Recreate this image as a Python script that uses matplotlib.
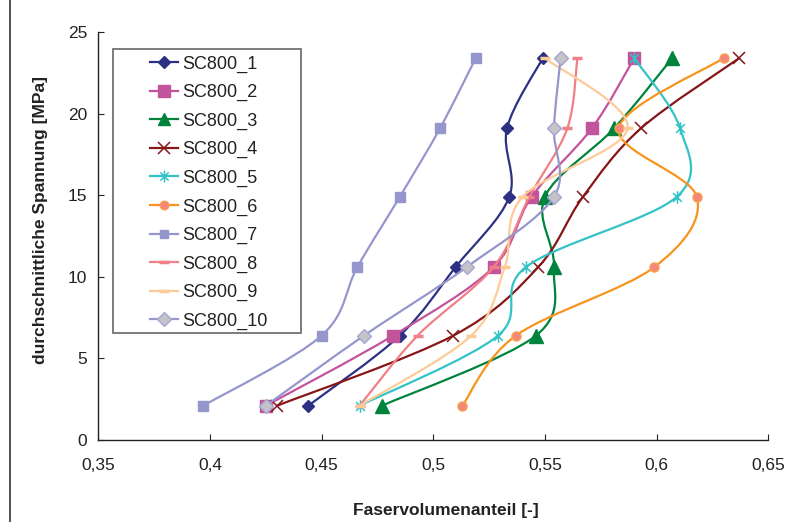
import matplotlib
matplotlib.use("Agg")
import matplotlib.pyplot as plt
import numpy as np
from matplotlib.path import Path
from matplotlib.patches import PathPatch, Rectangle
from matplotlib.lines import Line2D

plt.rcParams['font.family'] = ['Liberation Sans', 'DejaVu Sans']

# ---- data ----
stress = [2.1, 6.4, 10.6, 14.9, 19.1, 23.4]
series_names = ["SC800_1", "SC800_2", "SC800_3", "SC800_4", "SC800_5",
                "SC800_6", "SC800_7", "SC800_8", "SC800_9", "SC800_10"]
sc1 = [0.444, 0.485, 0.510, 0.534, 0.533, 0.549]
sc2 = [0.425, 0.482, 0.527, 0.544, 0.571, 0.590]
sc3 = [0.477, 0.546, 0.554, 0.550, 0.581, 0.607]
sc4 = [0.430, 0.509, 0.547, 0.567, 0.593, 0.637]
sc5 = [0.467, 0.529, 0.5415, 0.609, 0.6105, 0.590]
sc6 = [0.513, 0.537, 0.599, 0.618, 0.583, 0.630]
sc7 = [0.397, 0.450, 0.466, 0.485, 0.503, 0.519]
sc8 = [0.467, 0.493, 0.527, 0.543, 0.560, 0.5645]
sc9 = [0.467, 0.517, 0.532, 0.540, 0.587, 0.550]
sc10 = [0.425, 0.469, 0.515, 0.554, 0.554, 0.557]
series_x = [sc1, sc2, sc3, sc4, sc5, sc6, sc7, sc8, sc9, sc10]

x_ticks = [0.35, 0.40, 0.45, 0.50, 0.55, 0.60, 0.65]
x_ticklabels = ["0,35", "0,4", "0,45", "0,5", "0,55", "0,6", "0,65"]
y_ticks = [0, 5, 10, 15, 20, 25]
y_ticklabels = ["0", "5", "10", "15", "20", "25"]

# ---- styles ----
ast = Path([(0, -1), (0, 1), (-0.7, -0.7), (0.7, 0.7), (-0.7, 0.7), (0.7, -0.7)],
           [Path.MOVETO, Path.LINETO, Path.MOVETO, Path.LINETO, Path.MOVETO, Path.LINETO])
styles = [
    dict(color='#2D3184', marker='D', ms=6.5, mfc='#2D3184', mec='#2D3184', mew=1),
    dict(color='#C2549C', marker='s', ms=9, mfc='#C2549C', mec='#C2549C', mew=1),
    dict(color='#00843D', marker='^', ms=9.5, mfc='#00843D', mec='#00843D', mew=1),
    dict(color='#861618', marker='x', ms=9, mfc='#861618', mec='#861618', mew=1.1),
    dict(color='#33C3C6', marker=ast, ms=9, mfc='#33C3C6', mec='#33C3C6', mew=1.1),
    dict(color='#F7941D', marker='o', ms=6.5, mfc='#F4877A', mec='#F7A04A', mew=1),
    dict(color='#9596CC', marker='s', ms=6.5, mfc='#9596CC', mec='#9596CC', mew=1),
    dict(color='#F07F86', marker='_', ms=7, mfc='#F07F86', mec='#F07F86', mew=2.5),
    dict(color='#FDCB98', marker='_', ms=7, mfc='#FDCB98', mec='#FDCB98', mew=2.5),
    dict(color='#9596CC', marker='D', ms=7, mfc='#C3C3C8', mec='#A5A6D4', mew=1),
]


def smooth_path(xs, ys):
    pts = np.column_stack([xs, ys])
    n = len(pts)
    verts = [tuple(pts[0])]
    codes = [Path.MOVETO]
    for i in range(n - 1):
        p0 = pts[i - 1] if i > 0 else pts[i]
        p1 = pts[i]
        p2 = pts[i + 1]
        p3 = pts[i + 2] if i + 2 < n else pts[i + 1]
        c1 = p1 + (p2 - p0) / 6.0
        c2 = p2 - (p3 - p1) / 6.0
        verts += [tuple(c1), tuple(c2), tuple(p2)]
        codes += [Path.CURVE4] * 3
    return Path(verts, codes)


fig = plt.figure(figsize=(7.93, 5.22), dpi=100)
ax = fig.add_axes([98.3 / 793, 82 / 522, 670 / 793, 408 / 522])

handles = []
for i, (xs, st) in enumerate(zip(series_x, styles)):
    z = 2 + i * 0.1
    patch = PathPatch(smooth_path(xs, stress), facecolor='none', edgecolor=st['color'],
                      lw=1.6, transform=ax.transData, zorder=z, capstyle='round')
    ax.add_patch(patch)
    ax.plot(xs, stress, linestyle='none', marker=st['marker'], ms=st['ms'],
            mfc=st['mfc'], mec=st['mec'], mew=st['mew'], zorder=z + 0.05)
    handles.append(Line2D([], [], color=st['color'], lw=1.6, marker=st['marker'],
                          ms=st['ms'] * 0.95, mfc=st['mfc'], mec=st['mec'], mew=st['mew']))

ax.set_xlim(0.35, 0.65)
ax.set_ylim(0, 25)
ax.set_xticks(x_ticks)
ax.set_xticklabels(x_ticklabels)
ax.set_yticks(y_ticks)
ax.set_yticklabels(y_ticklabels)
for s in ['top', 'right']:
    ax.spines[s].set_visible(False)
for s in ['left', 'bottom']:
    ax.spines[s].set_color('#222222')
    ax.spines[s].set_linewidth(1.0)
ax.tick_params(axis='x', direction='in', length=4, width=0.8, pad=13, labelsize=12.5,
               colors='#222222', labelcolor='#222222')
ax.tick_params(axis='y', direction='in', length=4, width=0.8, pad=8, labelsize=12.5,
               colors='#222222', labelcolor='#222222')

fig.text(446 / 793, 1 - 511 / 522, "Faservolumenanteil [-]", ha='center', va='center',
         fontsize=12.5, fontweight='bold', color='#222222')
fig.text(41 / 793, 1 - 220 / 522, "durchschnittliche Spannung [MPa]", ha='center',
         va='center', rotation=90, fontsize=12.5, fontweight='bold', color='#222222')

# legend frame (drawn inside the axes so the legend can sit above it)
frame = Rectangle((113 / 793, 1 - 333 / 522), 188 / 793, 284 / 522,
                  transform=fig.transFigure, facecolor='white',
                  edgecolor='#666666', lw=1.2, zorder=5)
frame.set_clip_on(False)
ax.add_artist(frame)
leg = ax.legend(handles, series_names, loc='upper left',
                bbox_to_anchor=(150 / 793, 1 - 55.5 / 522), bbox_transform=fig.transFigure,
                frameon=False, borderpad=0, borderaxespad=0, handlelength=1.55,
                handletextpad=0.25, labelspacing=0.63, fontsize=13)
leg.set_zorder(6)
for t in leg.get_texts():
    t.set_color('#222222')

# outer chart border (left edge visible)
fig.add_artist(Line2D([10 / 793, 10 / 793], [0, 1], transform=fig.transFigure,
                      color='#333333', lw=1.2))

fig.savefig("out.png", dpi=100)
